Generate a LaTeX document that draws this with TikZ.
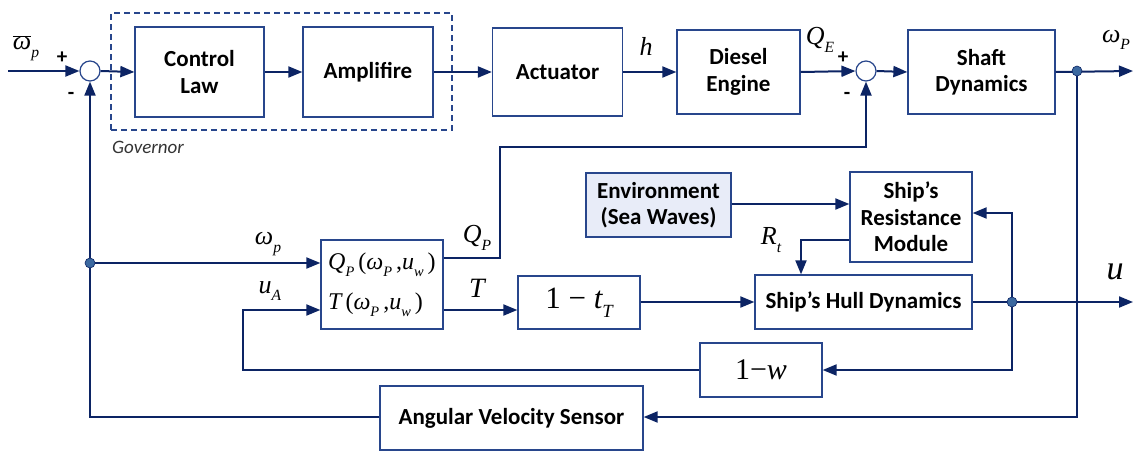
\documentclass[tikz,border=0pt]{standalone}
\usepackage{fontspec}
\usepackage{graphicx}
\setsansfont{Carlito}
\newfontfamily\tms{Liberation Serif}
\newcommand\iv[1]{{\tms\itshape #1}}
\newcommand\sbs[1]{\raisebox{-0.3em}{\scalebox{0.6}{\tms\itshape #1}}}
\usetikzlibrary{arrows.meta,calc}
\definecolor{ln}{RGB}{12,36,100}
\definecolor{bd}{RGB}{40,70,140}
\definecolor{dotc}{RGB}{60,105,160}
\definecolor{envf}{RGB}{232,236,248}
\begin{document}
\begin{tikzpicture}[x=1pt,y=-1pt,
  blk/.style={draw=bd,line width=1.3pt,fill=white,font=\sffamily\bfseries\fontsize{23}{26.5}\selectfont,align=center,inner sep=0pt},
  sumc/.style={circle,draw=bd,line width=1.2pt,fill=white,minimum size=20pt,inner sep=0pt},
  jdot/.style={circle,fill=dotc,draw=ln,line width=0.6pt,minimum size=10pt,inner sep=0pt},
  con/.style={draw=ln,line width=2pt},
  arr/.style={con,-{Triangle[length=14pt,width=11pt]}},
  lab/.style={font=\tms\fontsize{26}{30}\selectfont,inner sep=0pt},
  sgn/.style={font=\sffamily\bfseries\fontsize{21}{24}\selectfont,inner sep=0pt}]
\useasboundingbox (0,0) rectangle (1137,453);
% governor
\node[draw=bd,dash pattern=on 6pt off 4pt,line width=1.2pt,minimum width=341pt,minimum height=117pt,inner sep=0pt] (gov) at (281.5,71.5) {};
\node[anchor=west,font=\sffamily\itshape\fontsize{19}{22}\selectfont,text=black!80,inner sep=0pt] (govl) at (112,147) {Governor};
% blocks
\node[blk,minimum width=129pt,minimum height=90pt] (cl) at (199.5,72) {Control\\Law};
\node[blk,minimum width=130pt,minimum height=90pt] (amp) at (368,72) {Amplifire};
\node[blk,minimum width=130pt,minimum height=88pt] (act) at (557.5,72) {Actuator};
\node[blk,minimum width=123pt,minimum height=84pt] (de) at (738.5,72) {Diesel\\Engine};
\node[blk,minimum width=147pt,minimum height=84pt] (sd) at (981.5,72) {Shaft\\Dynamics};
\node[sumc] (s1) at (90,71) {};
\node[sumc] (s2) at (866,71) {};
\node[blk,minimum width=122pt,minimum height=89pt] (pm) at (382,284.5) {};
\node[lab,font=\tms\fontsize{24}{28}\selectfont,anchor=west] (pmq) at (328,265) {\iv{Q}\sbs{P}\,(\iv{ω}\sbs{P}\,,\iv{u}\sbs{w}\,)};
\node[lab,font=\tms\fontsize{24}{28}\selectfont,anchor=west] (pmt) at (328,305) {\iv{T}\,(\iv{ω}\sbs{P}\,,\iv{u}\sbs{w}\,)};
\node[blk,minimum width=122pt,minimum height=53pt,font=\tms\fontsize{31}{35}\selectfont] (tt) at (579,302.5) {1 − \iv{t}\sbs{T}};
\node[blk,minimum width=217pt,minimum height=54pt] (hull) at (863.5,302) {Ship’s Hull Dynamics};
\node[blk,fill=envf,minimum width=145pt,minimum height=64pt] (env) at (658.5,205) {Environment\\(Sea Waves)};
\node[blk,minimum width=122pt,minimum height=90pt] (res) at (911,217) {Ship’s\\Resistance\\Module};
\node[blk,minimum width=122pt,minimum height=54pt,font=\tms\fontsize{30}{34}\selectfont] (wb) at (761,370) {1−\iv{w}};
\node[blk,minimum width=263pt,minimum height=64pt] (avs) at (511.5,418) {Angular Velocity Sensor};
% junction coordinates
\coordinate (in) at (8,71);
\coordinate (outw) at (1133,71);
\coordinate (outu) at (1133,302);
% connectors
\draw[arr] (in) -- (s1.west);
\draw[arr] (s1.east) -- (cl.west);
\draw[arr] (cl.east) -- (amp.west);
\draw[arr] (amp.east) -- (act.west);
\draw[arr] (act.east) -- (de.west);
\draw[arr] (de.east) -- (s2.west);
\draw[arr] (s2.east) -- (sd.west);
\draw[arr] (sd.east) -- (outw);
\node[jdot] (d1) at (1077,71) {};
\draw[arr] (d1) -- (1077,417) -- (avs.east|-0,417);
\draw[arr] (avs.west|-0,417) -- (90,417) -- (s1.south);
\node[jdot] (d2) at (90,263) {};
\draw[arr] (d2) -- (pm.west|-0,263);
\draw[arr] (pm.east|-0,258) -- (500,258) -- (500,147) -- (866,147) -- (s2.south);
\draw[arr] (pm.east|-0,310) -- (tt.west|-0,310);
\draw[arr] (tt.east|-0,302) -- (hull.west|-0,302);
\node[jdot] (d3) at (1012,302) {};
\draw[con] (hull.east|-0,302) -- (d3);
\draw[arr] (d3) -- (outu);
\draw[arr] (d3) -- (1012,213) -- (res.east|-0,213);
\draw[arr] (d3) -- (1012,370) -- (wb.east);
\draw[arr] (wb.west) -- (243,370) -- (243,310) -- (pm.west|-0,310);
\draw[arr] (env.east|-0,204) -- (res.west|-0,204);
\draw[arr] (res.west|-0,240) -- (801,240) -- (hull.north-|801,0);
% labels
\node[lab] (lw) at (26,48) {$\overline{\hbox{\iv{ω}}}$\sbs{p}};
\node[sgn] (p1) at (62,58) {+};
\node[sgn] (m1) at (71,96) {-};
\node[sgn] (p2) at (843,58) {+};
\node[sgn] (m2) at (847,96) {-};
\node[lab] (lh) at (646,46) {\iv{h}};
\node[lab] (lqe) at (820,40) {\iv{Q}\sbs{E}};
\node[lab] (lwp) at (1116,40) {\iv{ω}\sbs{P}};
\node[lab] (lwp2) at (268,244) {\iv{ω}\sbs{p}};
\node[lab] (lua) at (270,291) {\iv{u}\sbs{A}};
\node[lab] (lqp) at (477,238) {\iv{Q}\sbs{P}};
\node[lab,font=\tms\fontsize{28}{32}\selectfont] (lt) at (477,288) {\iv{T}};
\node[lab] (lrt) at (771,240) {\iv{R}\sbs{t}};
\node[lab,font=\tms\fontsize{34}{38}\selectfont] (lu) at (1115,272) {\iv{u}};
\end{tikzpicture}
\end{document}
